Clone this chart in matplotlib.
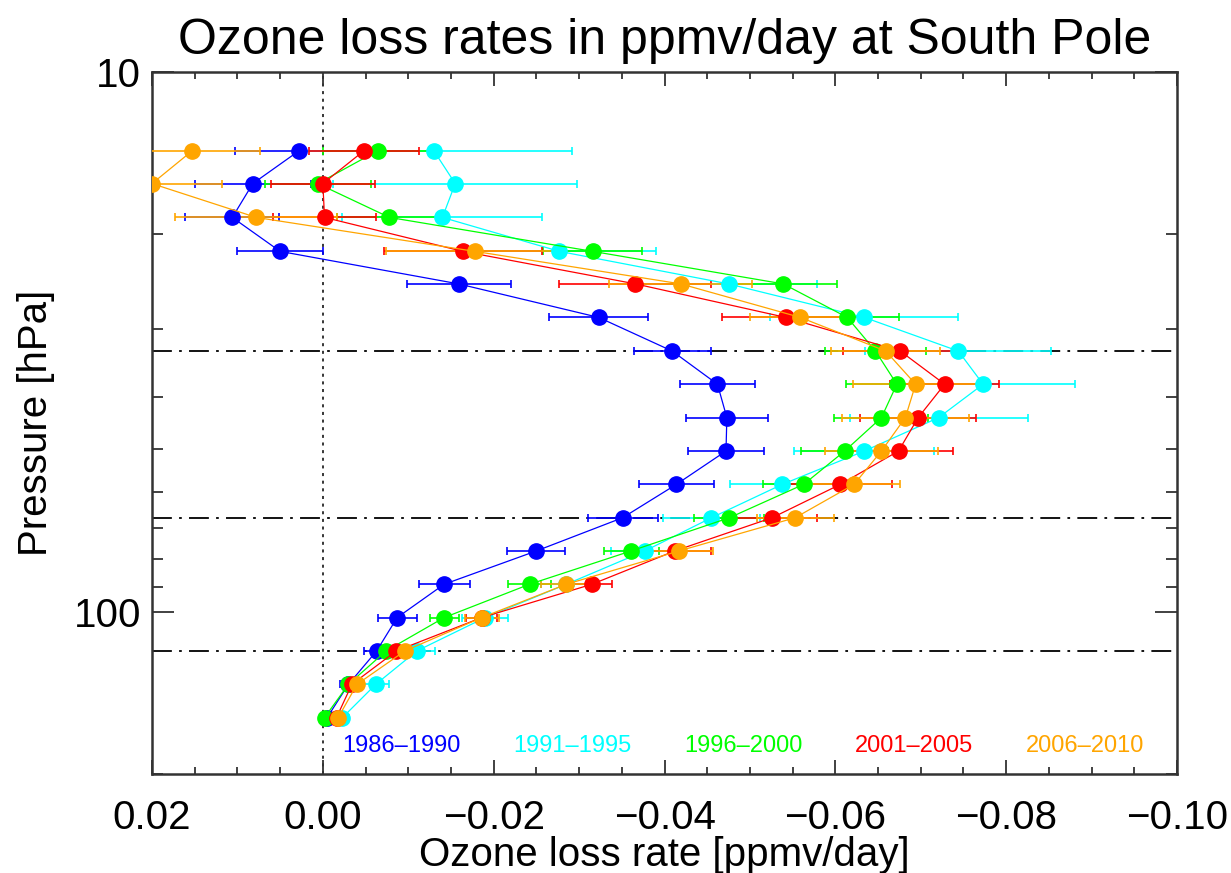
import matplotlib
matplotlib.use("Agg")
import matplotlib.pyplot as plt
from matplotlib.ticker import FixedLocator, LogLocator, NullFormatter, FixedFormatter

# pressure levels (hPa) of the retrieved loss rates
pressure = [14.0, 16.1, 18.6, 21.5, 24.7, 28.5, 32.9, 37.9, 43.7, 50.4,
            58.1, 67.0, 77.2, 89.0, 102.6, 118.3, 136.4, 157.2]

periods = ["1986\u20131990", "1991\u20131995", "1996\u20132000", "2001\u20132005", "2006\u20132010"]
colors = ["#0000ff", "#00ffff", "#00ff00", "#ff0000", "#ffa500"]

# loss rates in ppmv/day per period
rate_8690 = [0.0028, 0.0082, 0.0106, 0.0050, -0.0159, -0.0323, -0.0409, -0.0462, -0.0473,
             -0.0472, -0.0414, -0.0351, -0.0250, -0.0142, -0.0087, -0.0063, -0.0030, -0.0005]
rate_9195 = [-0.0130, -0.0155, -0.0140, -0.0277, -0.0475, -0.0634, -0.0744, -0.0773, -0.0721,
             -0.0634, -0.0538, -0.0455, -0.0377, -0.0285, -0.0190, -0.0110, -0.0062, -0.0023]
rate_9600 = [-0.0064, 0.0006, -0.0078, -0.0316, -0.0539, -0.0614, -0.0647, -0.0672, -0.0654,
             -0.0611, -0.0563, -0.0476, -0.0361, -0.0242, -0.0142, -0.0074, -0.0030, -0.0002]
rate_0105 = [-0.0048, 0.0000, -0.0002, -0.0164, -0.0366, -0.0542, -0.0676, -0.0728, -0.0697,
             -0.0674, -0.0606, -0.0526, -0.0412, -0.0315, -0.0186, -0.0086, -0.0034, -0.0016]
rate_0610 = [0.0153, 0.0200, 0.0078, -0.0178, -0.0419, -0.0559, -0.0659, -0.0694, -0.0682,
             -0.0654, -0.0622, -0.0553, -0.0417, -0.0285, -0.0186, -0.0096, -0.0040, -0.0018]

# 1-sigma uncertainties
err_8690 = [0.0075, 0.0068, 0.0055, 0.0050, 0.0061, 0.0058, 0.0045, 0.0044, 0.0048,
            0.0045, 0.0044, 0.0041, 0.0034, 0.0030, 0.0023, 0.0015, 0.0010, 0.0005]
err_9195 = [0.0162, 0.0143, 0.0117, 0.0113, 0.0104, 0.0110, 0.0109, 0.0108, 0.0104,
            0.0082, 0.0061, 0.0057, 0.0040, 0.0030, 0.0027, 0.0021, 0.0016, 0.0008]
err_9600 = [0.0064, 0.0062, 0.0061, 0.0058, 0.0063, 0.0060, 0.0059, 0.0059, 0.0055,
            0.0051, 0.0048, 0.0041, 0.0032, 0.0025, 0.0017, 0.0012, 0.0008, 0.0005]
err_0105 = [0.0064, 0.0061, 0.0060, 0.0092, 0.0089, 0.0075, 0.0067, 0.0064, 0.0068,
            0.0064, 0.0060, 0.0052, 0.0042, 0.0023, 0.0018, 0.0010, 0.0008, 0.0005]
err_0610 = [0.0080, 0.0082, 0.0095, 0.0104, 0.0084, 0.0059, 0.0064, 0.0073, 0.0074,
            0.0066, 0.0054, 0.0045, 0.0040, 0.0030, 0.0020, 0.0010, 0.0008, 0.0005]

# reference levels marked with dash-dot lines
ref_levels = [32.9, 67.0, 118.3]

rates = [rate_8690, rate_9195, rate_9600, rate_0105, rate_0610]
errors = [err_8690, err_9195, err_9600, err_0105, err_0610]

plt.rcParams["font.family"] = ["Liberation Sans", "DejaVu Sans"]

fig = plt.figure(figsize=(12.31, 8.73), dpi=100)
ax = fig.add_axes([152 / 1231, 1 - 774 / 873, 1025 / 1231, 702 / 873])

ax.set_yscale("log")
ax.set_xlim(0.02, -0.10)
ax.set_ylim(200, 10)

ax.axvline(0.0, color="black", linestyle=(0, (2, 3)), linewidth=1.1, zorder=1)
for lev in ref_levels:
    ax.axhline(lev, color="black", linestyle=(0, (11, 4, 1.5, 4)), linewidth=1.3, zorder=1)

for rate, err, col in zip(rates, errors, colors):
    ax.errorbar(rate, pressure, xerr=err, fmt="o-", color=col, markersize=11,
                linewidth=0.9, elinewidth=1.2, capsize=3, capthick=1.2, zorder=3)

for i, (label, col) in enumerate(zip(periods, colors)):
    ax.text(0.243 + i * 0.1668, 0.04, label, color=col, fontsize=17,
            ha="center", va="center", transform=ax.transAxes)

# ticks in IDL style: inward on all four sides
ax.set_xticks([0.02, 0.0, -0.02, -0.04, -0.06, -0.08, -0.10])
ax.set_xticklabels(["0.02", "0.00", "\u22120.02", "\u22120.04", "\u22120.06", "\u22120.08", "\u22120.10"])
ax.xaxis.set_minor_locator(FixedLocator([0.02 - 0.005 * k for k in range(25)]))
ax.yaxis.set_major_locator(FixedLocator([10, 100]))
ax.yaxis.set_major_formatter(FixedFormatter(["10", "100"]))
ax.yaxis.set_minor_locator(LogLocator(base=10, subs=range(2, 10)))
ax.yaxis.set_minor_formatter(NullFormatter())

ax.tick_params(axis="both", which="both", direction="in", top=True, right=True,
               width=1.3, color="#333333", labelsize=29)
ax.tick_params(axis="x", which="major", length=10, pad=18)
ax.tick_params(axis="x", which="minor", length=5)
ax.tick_params(axis="y", which="major", length=16, pad=8)
ax.tick_params(axis="y", which="minor", length=8)

for sp in ax.spines.values():
    sp.set_linewidth(1.8)
    sp.set_color("#333333")

ax.set_xlabel("Ozone loss rate [ppmv/day]", fontsize=29)
ax.set_ylabel("Pressure [hPa]", fontsize=29)
ax.xaxis.set_label_coords(0.5, -0.088)
ax.yaxis.set_label_coords(-0.095, 0.5)
ax.set_title("Ozone loss rates in ppmv/day at South Pole", fontsize=36, pad=13)

fig.savefig("out.png", dpi=100)
